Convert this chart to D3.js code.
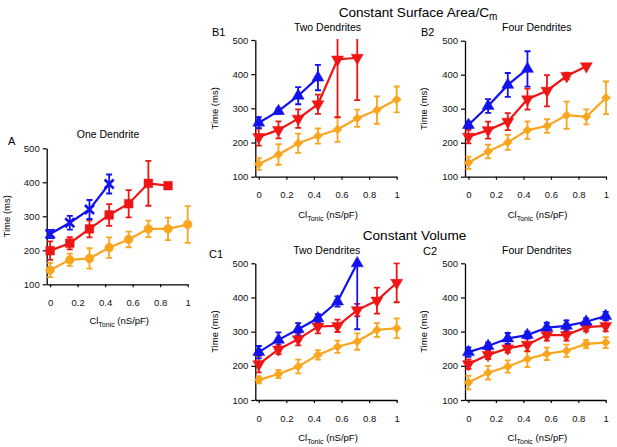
<!DOCTYPE html>
<html><head><meta charset="utf-8">
<script src="https://cdn.jsdelivr.net/npm/d3@7"></script>
<style>
body{margin:0;background:#fff;}
svg{display:block;font-family:"Liberation Sans",Arial,Helvetica,sans-serif;}
</style></head>
<body><svg id="c" width="617" height="447"></svg>
<script>
// ---- data ----
const xVals = [0, 0.143, 0.286, 0.429, 0.571, 0.714, 0.857, 1];
const xTicks = [0, 0.2, 0.4, 0.6, 0.8, 1];
const xTickLabels = ["0", "0.2", "0.4", "0.6", "0.8", "1"];
const yTicks = [100, 200, 300, 400, 500];

// Panel A: One Dendrite
const aBlue = [248, 281, 320, 395];
const aBlueErr = [12, 20, 28, 28];
const aRed = [199, 221, 263, 304, 337, 397, 390];
const aRedErr = [27, 18, 25, 32, 40, 66, 5];
const aOrange = [142, 172, 176, 208, 232, 263, 263, 276];
const aOrangeErr = [21, 18, 30, 30, 23, 24, 33, 54];

// Panel B1: Two Dendrites (constant surface area)
const b1Blue = [258, 292, 337, 390];
const b1BlueErr = [16, 8, 25, 37];
const b1Red = [216, 237, 270, 312, 443, 448];
const b1RedErr = [25, 25, 27, 28, 169, 124];
const b1Orange = [137, 165, 198, 219, 238, 271, 295, 326];
const b1OrangeErr = [17, 30, 28, 22, 36, 25, 40, 38];

// Panel B2: Four Dendrites (constant surface area)
const b2Blue = [252, 308, 370, 417];
const b2BlueErr = [10, 20, 35, 52];
const b2Red = [218, 237, 262, 328, 353, 396, 425];
const b2RedErr = [20, 25, 25, 31, 46, 10, 0];
const b2Orange = [141, 174, 201, 237, 249, 281, 276, 332];
const b2OrangeErr = [18, 20, 22, 26, 20, 40, 22, 48];

// Panel C1: Two Dendrites (constant volume)
const c1Blue = [240, 276, 307, 339, 388, 500];
const c1BlueErr = [18, 22, 18, 12, 15, 193];
const c1Red = [205, 248, 278, 315, 317, 363, 391, 443];
const c1RedErr = [24, 14, 18, 20, 18, 18, 38, 57];
const c1Orange = [159, 176, 198, 232, 256, 271, 305, 310];
const c1OrangeErr = [10, 12, 20, 14, 18, 24, 20, 29];

// Panel C2: Four Dendrites (constant volume)
const c2Blue = [240, 258, 280, 290, 312, 317, 329, 346];
const c2BlueErr = [14, 10, 16, 10, 14, 16, 10, 12];
const c2Red = [205, 232, 251, 262, 290, 290, 313, 317];
const c2RedErr = [14, 12, 12, 20, 16, 16, 12, 16];
const c2Orange = [151, 180, 198, 220, 235, 244, 264, 268];
const c2OrangeErr = [20, 20, 18, 24, 18, 18, 12, 16];

// ---- styling / layout ----
const BLUE = "#1212ee", RED = "#ee1515", ORANGE = "#f9a51e";
const svg = d3.select("#c");

const panels = [
  {id:"a", label:"A", title:"One Dendrite", ax:46.7, x1:187.7, yTop:148.3, yBot:284.3,
   labelX:8, labelY:141, titleX:108, titleY:134, tickLabY:302, xLabY:321, yLabX:7,
   series:[
     {v:aOrange, e:aOrangeErr, c:ORANGE, m:"circle"},
     {v:aRed, e:aRedErr, c:RED, m:"square"},
     {v:aBlue, e:aBlueErr, c:BLUE, m:"times"}]},
  {id:"b1", label:"B1", title:"Two Dendrites", ax:255.3, x1:396.7, yTop:40, yBot:176.7,
   labelX:212, labelY:32, titleX:327.5, titleY:27, tickLabY:194.5, xLabY:215, yLabX:215,
   series:[
     {v:b1Orange, e:b1OrangeErr, c:ORANGE, m:"diamond"},
     {v:b1Red, e:b1RedErr, c:RED, m:"down"},
     {v:b1Blue, e:b1BlueErr, c:BLUE, m:"up"}]},
  {id:"b2", label:"B2", title:"Four Dendrites", ax:465, x1:606, yTop:40.7, yBot:176.7,
   labelX:421, labelY:32, titleX:536.7, titleY:27, tickLabY:194.5, xLabY:215, yLabX:424,
   series:[
     {v:b2Orange, e:b2OrangeErr, c:ORANGE, m:"diamond"},
     {v:b2Red, e:b2RedErr, c:RED, m:"down"},
     {v:b2Blue, e:b2BlueErr, c:BLUE, m:"up"}]},
  {id:"c1", label:"C1", title:"Two Dendrites", ax:255.3, x1:396.7, yTop:263.3, yBot:400,
   labelX:209, labelY:254, titleX:326.7, titleY:250, tickLabY:418.3, xLabY:438, yLabX:215,
   series:[
     {v:c1Orange, e:c1OrangeErr, c:ORANGE, m:"diamond"},
     {v:c1Red, e:c1RedErr, c:RED, m:"down"},
     {v:c1Blue, e:c1BlueErr, c:BLUE, m:"up"}]},
  {id:"c2", label:"C2", title:"Four Dendrites", ax:465, x1:605.7, yTop:263.3, yBot:400,
   labelX:423, labelY:251, titleX:536.7, titleY:250, tickLabY:418.3, xLabY:438, yLabX:424,
   series:[
     {v:c2Orange, e:c2OrangeErr, c:ORANGE, m:"diamond"},
     {v:c2Red, e:c2RedErr, c:RED, m:"down"},
     {v:c2Blue, e:c2BlueErr, c:BLUE, m:"up"}]}
];

const symbolMap = {
  circle: {t:d3.symbolCircle, s:60, rot:0, fill:true},
  square: {t:d3.symbolSquare, s:75, rot:0, fill:true},
  times:  {t:d3.symbolTimes, s:55, rot:0, fill:false},
  up:     {t:d3.symbolTriangle, s:62, rot:0, fill:true},
  down:   {t:d3.symbolTriangle, s:62, rot:180, fill:true},
  diamond:{t:d3.symbolSquare, s:40, rot:45, fill:true}
};

// main titles
svg.append("text").attr("x", 418).attr("y", 12).attr("dy","0.35em")
  .attr("text-anchor","middle").attr("font-size", 13.6)
  .html('Constant Surface Area/C<tspan font-size="10" dy="3">m</tspan>');
svg.append("text").attr("x", 414.5).attr("y", 235).attr("dy","0.35em")
  .attr("text-anchor","middle").attr("font-size", 13.6).text("Constant Volume");

panels.forEach(p => {
  const x = d3.scaleLinear().domain([-0.025, 1]).range([p.ax, p.x1]);
  const y = d3.scaleLinear().domain([100, 500]).range([p.yBot, p.yTop]);
  const g = svg.append("g");

  g.append("clipPath").attr("id", "clip-" + p.id).append("rect")
    .attr("x", p.ax).attr("y", p.yTop - 1).attr("width", p.x1 - p.ax + 10).attr("height", p.yBot - p.yTop + 1);

  // axes
  const yAx = g.append("g").attr("transform", `translate(${p.ax},0)`)
    .call(d3.axisLeft(y).tickValues(yTicks).tickSize(4).tickSizeOuter(0).tickPadding(3).tickFormat(d3.format("d")));
  const xAx = g.append("g").attr("transform", `translate(0,${p.yBot})`)
    .call(d3.axisBottom(x).tickValues(xTicks).tickSize(3).tickSizeOuter(0)
      .tickFormat((d,i) => xTickLabels[i]));
  [yAx, xAx].forEach(a => {
    a.selectAll("path.domain").attr("stroke","#000").attr("stroke-width",1.3);
    a.selectAll(".tick line").attr("stroke","#000").attr("stroke-width",1.2);
    a.selectAll("text").attr("font-family","Liberation Sans, Arial, sans-serif").attr("font-size",9.5).attr("fill","#111");
  });
  xAx.selectAll(".tick text").attr("y", null).attr("dy", null)
    .attr("transform", `translate(0,${p.tickLabY - p.yBot})`).attr("dominant-baseline","central");

  // labels
  g.append("text").attr("x", p.labelX).attr("y", p.labelY).attr("dy","0.35em")
    .attr("font-size", 11).text(p.label);
  g.append("text").attr("x", p.titleX).attr("y", p.titleY).attr("dy","0.35em")
    .attr("text-anchor","middle").attr("font-size", 10.5).text(p.title);
  g.append("text").attr("transform", `translate(${p.yLabX},${(p.yTop + p.yBot)/2}) rotate(-90)`)
    .attr("dy","0.35em").attr("text-anchor","middle").attr("font-size", 9.5).text("Time (ms)");
  g.append("text").attr("x", (p.ax + p.x1)/2 + 2).attr("y", p.xLabY).attr("dy","0.35em")
    .attr("text-anchor","middle").attr("font-size", 9.5)
    .html('Cl<tspan font-size="7" dy="2.5">Tonic</tspan><tspan dy="-2.5"> (nS/pF)</tspan>');

  const plot = g.append("g").attr("clip-path", `url(#clip-${p.id})`);
  p.series.forEach(s => {
    const pts = s.v.map((v, i) => ({x: xVals[i], v, e: s.e[i]}));
    plot.append("path").datum(pts)
      .attr("fill","none").attr("stroke", s.c).attr("stroke-width", 2.2)
      .attr("d", d3.line().x(d => x(d.x)).y(d => y(d.v)));
    const eb = plot.selectAll(null).data(pts.filter(d => d.e > 0)).enter().append("g")
      .attr("stroke", s.c).attr("stroke-width", 1.8);
    eb.append("line").attr("x1", d => x(d.x)).attr("x2", d => x(d.x))
      .attr("y1", d => y(d.v - d.e)).attr("y2", d => y(d.v + d.e));
    eb.append("line").attr("x1", d => x(d.x) - 3).attr("x2", d => x(d.x) + 3)
      .attr("y1", d => y(d.v - d.e)).attr("y2", d => y(d.v - d.e));
    eb.append("line").attr("x1", d => x(d.x) - 3).attr("x2", d => x(d.x) + 3)
      .attr("y1", d => y(d.v + d.e)).attr("y2", d => y(d.v + d.e));
    const sm = symbolMap[s.m];
    g.selectAll(null).data(pts).enter().append("path")
      .attr("transform", d => `translate(${x(d.x)},${y(d.v)}) rotate(${sm.rot})`)
      .attr("d", d3.symbol().type(sm.t).size(sm.s)())
      .attr("fill", sm.fill ? s.c : "none")
      .attr("stroke", s.c).attr("stroke-width", sm.fill ? 0.5 : 2.6);
  });
});
</script></body></html>
